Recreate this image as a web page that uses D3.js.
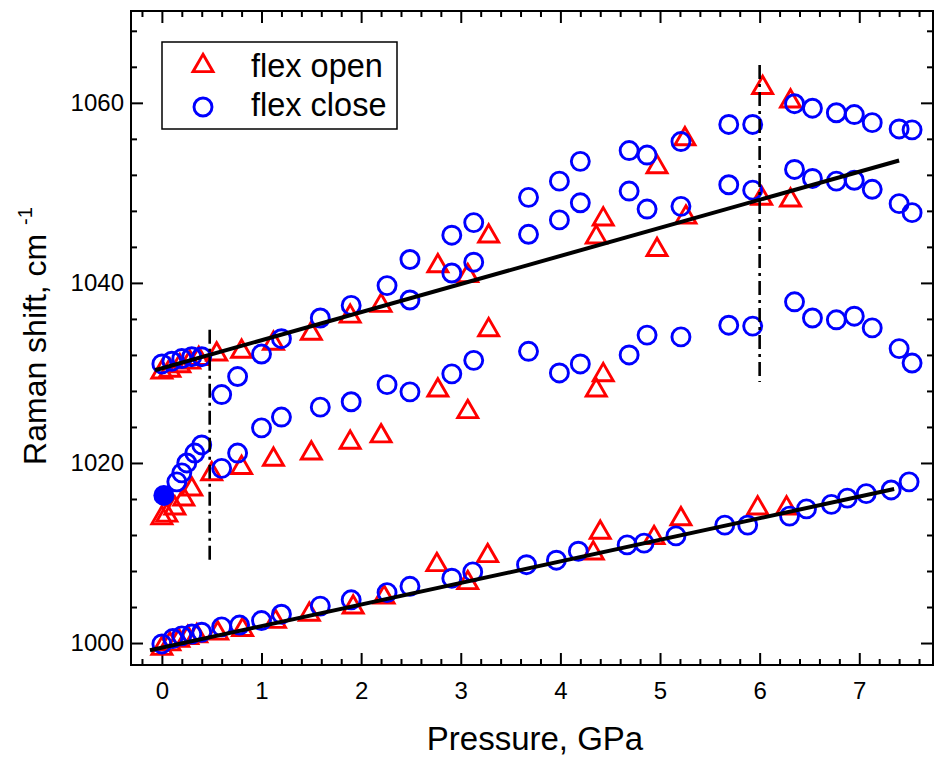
<!DOCTYPE html>
<html>
<head>
<meta charset="utf-8">
<script src="https://cdn.jsdelivr.net/npm/d3@7"></script>
<style>
  body { margin: 0; background: #fff; }
  svg { display: block; font-family: "Liberation Sans", Arial, sans-serif; }
</style>
</head>
<body>
<svg id="chart" width="934" height="759"></svg>
<script>
// flex open (triangles), [pressure GPa, Raman shift cm-1]
const openLow = [[0.0,999.7],[0.08,1000.2],[0.17,1000.6],[0.26,1000.9],[0.35,1001.1],[0.56,1001.4],[0.81,1001.8],
  [1.14,1002.7],[1.48,1003.5],[1.92,1004.3],[2.23,1005.4],[2.76,1009.0],[3.07,1007.0],[3.27,1010.0],
  [4.33,1010.3],[4.40,1012.6],[4.94,1012.0],[5.21,1014.1],[5.98,1015.3],[6.27,1015.3]];
const openMid = [[0.0,1014.2],[0.05,1014.5],[0.13,1015.3],[0.22,1016.3],[0.30,1017.4],[0.50,1019.1],[0.80,1019.8],
  [1.12,1020.7],[1.50,1021.4],[1.89,1022.6],[2.20,1023.3],[2.77,1028.4],[3.07,1026.0],[3.28,1035.1],
  [4.36,1028.4],[4.43,1030.1]];
const openHigh = [[0.0,1030.4],[0.08,1030.6],[0.18,1031.1],[0.28,1031.5],[0.37,1031.9],[0.55,1032.4],[0.80,1032.7],
  [1.12,1033.6],[1.50,1034.7],[1.89,1036.6],[2.20,1037.8],[2.77,1042.2],[3.07,1041.1],[3.28,1045.5],
  [4.36,1045.4],[4.43,1047.4],[4.97,1053.2],[4.97,1044.0],[5.25,1056.3],[5.26,1047.6],[6.03,1062.0],
  [6.02,1049.7],[6.31,1060.5],[6.31,1049.5]];

// flex close (circles)
const closeLow = [[0.0,999.9],[0.11,1000.5],[0.20,1000.8],[0.30,1001.0],[0.40,1001.2],[0.60,1001.8],[0.78,1002.0],
  [1.0,1002.5],[1.20,1003.2],[1.59,1004.1],[1.90,1004.8],[2.26,1005.6],[2.49,1006.3],[2.91,1007.2],[3.12,1007.9],
  [3.66,1008.7],[3.96,1009.2],[4.18,1010.2],[4.67,1010.9],[4.84,1011.1],[5.16,1011.9],[5.65,1013.1],[5.88,1013.1],
  [6.30,1014.1],[6.47,1014.9],[6.72,1015.4],[6.88,1016.1],[7.07,1016.6],[7.32,1017.0],[7.50,1017.9]];
const closeMid = [[0.15,1017.9],[0.20,1018.9],[0.25,1020.0],[0.33,1021.1],[0.40,1022.0],[0.60,1019.4],[0.76,1021.1],
  [1.0,1023.9],[1.20,1025.1],[1.59,1026.2],[1.90,1026.8],[2.26,1028.7],[2.49,1027.9],[2.91,1029.9],[3.13,1031.4],
  [3.68,1032.4],[3.99,1030.0],[4.20,1031.0],[4.69,1032.0],[4.87,1034.2],[5.21,1034.0],[5.69,1035.3],[5.93,1035.2],
  [6.35,1037.9],[6.53,1036.1],[6.77,1035.9],[6.95,1036.3],[7.13,1035.0],[7.40,1032.7],[7.53,1031.1],
  [0.60,1027.6],[0.76,1029.6]];
const closeHigh = [[0.0,1031.0],[0.10,1031.3],[0.20,1031.6],[0.30,1031.8],[0.40,1031.8],[1.0,1032.1],[1.20,1033.8],
  [1.59,1036.1],[1.90,1037.5],[2.26,1039.7],[2.49,1042.6],[2.91,1045.3],[3.13,1046.7],[3.68,1049.5],[3.99,1051.3],
  [4.20,1053.5],[4.69,1054.7],[4.87,1054.2],[5.21,1055.7],[5.69,1057.6],[5.93,1057.6],[6.35,1059.9],[6.53,1059.4],
  [6.77,1058.9],[6.95,1058.7],[7.13,1057.8],[7.40,1057.1],[7.53,1057.0]];
const closeSplit = [[2.49,1038.1],[2.91,1041.1],[3.13,1042.3],[3.68,1045.4],[3.99,1047.0],[4.20,1048.9],[4.69,1050.2],
  [4.87,1048.2],[5.21,1048.5],[5.69,1050.9],[5.93,1050.3],[6.35,1052.6],[6.53,1051.6],[6.77,1051.3],[6.95,1051.4],
  [7.13,1050.4],[7.40,1048.8],[7.53,1047.8]];
const closeFilled = [[0.02,1016.4]];

// linear fits and transition markers
const fitLines = [[[-0.07,1030.3],[7.40,1053.6]], [[-0.12,999.2],[7.35,1017.1]]];
const dashLines = [[0.48,1008.7,1034.8], [6.0,1029.0,1064.2]];

const xMajor = [0,1,2,3,4,5,6,7];
const yMajor = [1000,1020,1040,1060];

const svg = d3.select("#chart");
const pLeft = 131, pRight = 933, pTop = 11, pBottom = 665;

const x = d3.scaleLinear().domain([-0.31, 7.74]).range([pLeft, pRight]);
const y = d3.scaleLinear().domain([997.56, 1070.2]).range([pBottom, pTop]);

const xMinor = d3.range(-0.2, 7.7, 0.2).map(v => +v.toFixed(1)).filter(v => !xMajor.includes(v));
const yMinor = d3.range(1000, 1070, 4).filter(v => !yMajor.includes(v));

// axes, ticks pointing inward on all four sides
function axis(gen, scale, vals, size, labels, transform, pad) {
  const g = svg.append("g").attr("transform", transform)
    .call(gen(scale).tickValues(vals).tickSize(-size).tickPadding(pad || 0)
      .tickFormat(labels ? d3.format("d") : ""));
  g.select(".domain").remove();
  g.selectAll(".tick line").attr("stroke", "#000").attr("stroke-width", 2);
  g.selectAll(".tick text").attr("font-size", 24).attr("fill", "#000")
    .attr("font-family", "'Liberation Sans', Arial, sans-serif");
  return g;
}
axis(d3.axisBottom, x, xMajor, 12, true, `translate(0,${pBottom})`, 17);
axis(d3.axisBottom, x, xMinor, 6, false, `translate(0,${pBottom})`);
axis(d3.axisTop, x, xMajor, 12, false, `translate(0,${pTop})`);
axis(d3.axisTop, x, xMinor, 6, false, `translate(0,${pTop})`);
axis(d3.axisLeft, y, yMajor, 12, true, `translate(${pLeft},0)`, 7);
axis(d3.axisLeft, y, yMinor, 6, false, `translate(${pLeft},0)`);
axis(d3.axisRight, y, yMajor, 12, false, `translate(${pRight},0)`);
axis(d3.axisRight, y, yMinor, 6, false, `translate(${pRight},0)`);

svg.append("rect")
  .attr("x", pLeft).attr("y", pTop).attr("width", pRight - pLeft).attr("height", pBottom - pTop)
  .attr("fill", "none").attr("stroke", "#000").attr("stroke-width", 2);

// markers
const tri = s => { const h = s * Math.sqrt(3) / 2;
  return `M0,${-h/2}L${s/2},${h/2}L${-s/2},${h/2}Z`; };

const plot = svg.append("g");
plot.selectAll("path.open")
  .data(openLow.concat(openMid, openHigh))
  .enter().append("path")
    .attr("class", "open")
    .attr("d", tri(20))
    .attr("transform", d => `translate(${x(d[0])},${y(d[1])})`)
    .attr("fill", "none").attr("stroke", "#ff0000").attr("stroke-width", 2.9);

plot.selectAll("circle.close")
  .data(closeLow.concat(closeMid, closeHigh, closeSplit))
  .enter().append("circle")
    .attr("class", "close")
    .attr("cx", d => x(d[0])).attr("cy", d => y(d[1])).attr("r", 9)
    .attr("fill", "none").attr("stroke", "#0000ff").attr("stroke-width", 2.9);

plot.selectAll("circle.filled")
  .data(closeFilled)
  .enter().append("circle")
    .attr("cx", d => x(d[0])).attr("cy", d => y(d[1])).attr("r", 10.5)
    .attr("fill", "#0000ff");

// fits
plot.selectAll("line.fit")
  .data(fitLines)
  .enter().append("line")
    .attr("x1", d => x(d[0][0])).attr("y1", d => y(d[0][1]))
    .attr("x2", d => x(d[1][0])).attr("y2", d => y(d[1][1]))
    .attr("stroke", "#000").attr("stroke-width", 4);

plot.selectAll("line.dash")
  .data(dashLines)
  .enter().append("line")
    .attr("x1", d => x(d[0])).attr("x2", d => x(d[0]))
    .attr("y1", d => y(d[2])).attr("y2", d => y(d[1]))
    .attr("stroke", "#000").attr("stroke-width", 2.6)
    .attr("stroke-dasharray", "14,5,3,5");

// axis titles
svg.append("text")
  .attr("x", 535).attr("y", 750)
  .attr("text-anchor", "middle").attr("font-size", 33)
  .text("Pressure, GPa");

const yt = svg.append("text")
  .attr("transform", "translate(46,336) rotate(-90)")
  .attr("text-anchor", "middle").attr("font-size", 32);
yt.append("tspan").text("Raman shift, cm ");
yt.append("tspan").attr("font-size", 20).attr("dy", -14).text("-1");

// legend
const legend = svg.append("g");
legend.append("rect")
  .attr("x", 162).attr("y", 42).attr("width", 235).attr("height", 87)
  .attr("fill", "#fff").attr("stroke", "#000").attr("stroke-width", 1.5);
legend.append("path").attr("d", tri(20)).attr("transform", "translate(203,63)")
  .attr("fill", "none").attr("stroke", "#ff0000").attr("stroke-width", 2.9);
legend.append("circle").attr("cx", 203).attr("cy", 107).attr("r", 9)
  .attr("fill", "none").attr("stroke", "#0000ff").attr("stroke-width", 2.9);
legend.append("text").attr("x", 251).attr("y", 77).attr("font-size", 32.5).text("flex open");
legend.append("text").attr("x", 251).attr("y", 116).attr("font-size", 32.5).text("flex close");
</script>
</body>
</html>
